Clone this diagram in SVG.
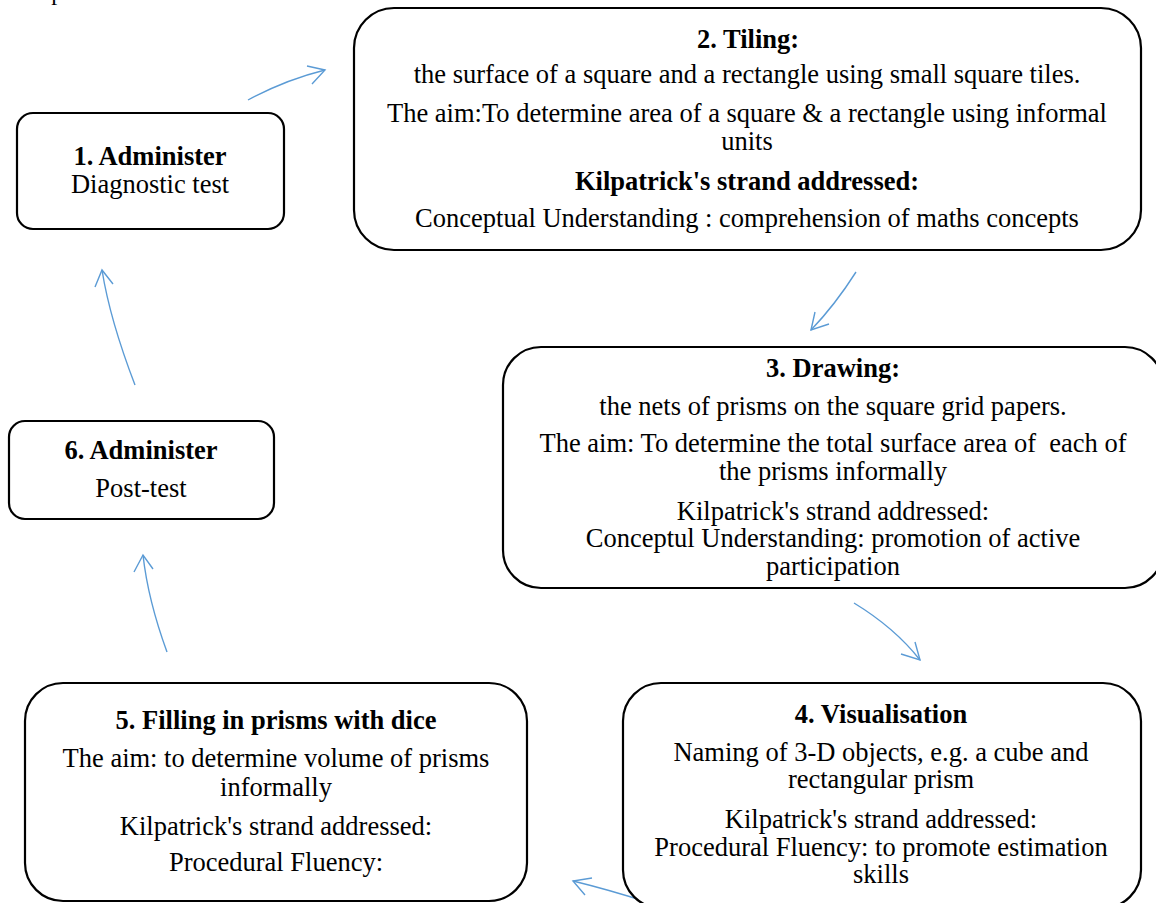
<svg xmlns="http://www.w3.org/2000/svg" width="1156" height="903" viewBox="0 0 1156 903">
  <style>
    text { font-family: "Liberation Serif", "Times New Roman", serif; font-size: 26.5px; fill: #000; text-anchor: middle; }
    .b { font-weight: bold; }
    .box { fill: #fff; stroke: #000; stroke-width: 2.2; }
    .link { fill: none; stroke: #5B9BD5; stroke-width: 1.4; }
  </style>

  <rect width="1156" height="903" fill="#fff"/>

  <!-- tail of the preceding paragraph, cut at the top edge -->
  <text x="22" y="-0.5" style="text-anchor:start;font-size:24px" fill="#444">ample as test.</text>

  <!-- connectors -->
  <g id="connectors">
    <path class="link" d="M248,100 Q285,80 325,70"/>
    <polyline class="link" points="307,66 325,70 312,84"/>

    <path class="link" d="M856,272 Q835,305 811,330"/>
    <polyline class="link" points="815,312 811,330 829,324"/>

    <path class="link" d="M854,603 Q895,628 920,660"/>
    <polyline class="link" points="915,642 920,660 901,654"/>

    <path class="link" d="M650,903 Q610,890 573,881"/>
    <polyline class="link" points="592,878 573,881 585,895"/>

    <path class="link" d="M167,652 Q148,600 143,555"/>
    <polyline class="link" points="134,572 143,555 153,569"/>

    <path class="link" d="M135,385 Q110,320 102,270"/>
    <polyline class="link" points="95,287 102,270 113,284"/>
  </g>

  <!-- 1. Administer -->
  <g id="node1">
    <rect class="box" x="17" y="113" width="267" height="116" rx="16"/>
    <text class="b" x="150" y="165">1. Administer</text>
    <text x="150" y="193">Diagnostic test</text>
  </g>

  <!-- 2. Tiling -->
  <g id="node2">
    <rect class="box" x="354" y="8" width="787" height="242" rx="40"/>
    <text class="b" x="748" y="48">2. Tiling:</text>
    <text x="747" y="83">the surface of a square and a rectangle using small square tiles.</text>
    <text x="747" y="122">The aim:To determine area of a square &amp; a rectangle using informal</text>
    <text x="747" y="150">units</text>
    <text class="b" x="747" y="190">Kilpatrick's strand addressed:</text>
    <text x="747" y="227">Conceptual Understanding : comprehension of maths concepts</text>
  </g>

  <!-- 3. Drawing -->
  <g id="node3">
    <rect class="box" x="503" y="347" width="660" height="241" rx="38"/>
    <text class="b" x="833" y="377">3. Drawing:</text>
    <text x="833" y="415">the nets of prisms on the square grid papers.</text>
    <text x="833" y="452" xml:space="preserve">The aim: To determine the total surface area of  each of</text>
    <text x="833" y="480">the prisms informally</text>
    <text x="833" y="520">Kilpatrick's strand addressed:</text>
    <text x="833" y="547">Conceptul Understanding: promotion of active</text>
    <text x="833" y="575">participation</text>
  </g>

  <!-- 4. Visualisation -->
  <g id="node4">
    <rect class="box" x="623" y="683" width="518" height="225" rx="38"/>
    <text class="b" x="881" y="723">4. Visualisation</text>
    <text x="881" y="761">Naming of 3-D objects, e.g. a cube and</text>
    <text x="881" y="788">rectangular prism</text>
    <text x="881" y="828">Kilpatrick's strand addressed:</text>
    <text x="881" y="856">Procedural Fluency: to promote estimation</text>
    <text x="881" y="883">skills</text>
  </g>

  <!-- 5. Filling in prisms -->
  <g id="node5">
    <rect class="box" x="25" y="683" width="502" height="218" rx="38"/>
    <text class="b" x="276" y="729">5. Filling in prisms with dice</text>
    <text x="276" y="767">The aim: to determine volume of prisms</text>
    <text x="276" y="796">informally</text>
    <text x="276" y="835">Kilpatrick's strand addressed:</text>
    <text x="276" y="871">Procedural Fluency:</text>
  </g>

  <!-- 6. Administer -->
  <g id="node6">
    <rect class="box" x="9" y="421" width="265" height="98" rx="16"/>
    <text class="b" x="141" y="459">6. Administer</text>
    <text x="141" y="497">Post-test</text>
  </g>
</svg>
